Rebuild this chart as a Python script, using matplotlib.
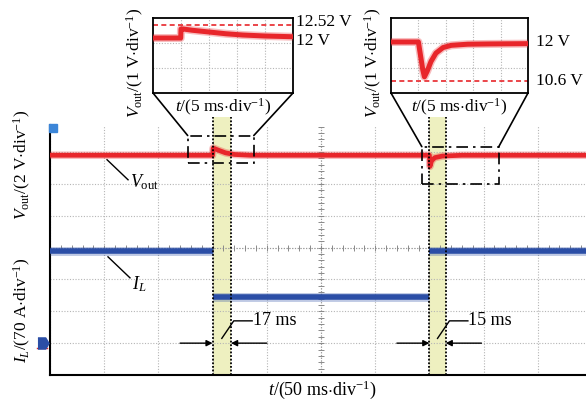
import numpy as np
import matplotlib
matplotlib.use("Agg")
from matplotlib import pyplot as plt
from matplotlib.patches import Rectangle, ConnectionPatch

plt.rcParams['font.family'] = ['Liberation Serif', 'DejaVu Serif']
plt.rcParams['mathtext.fontset'] = 'custom'
plt.rcParams['mathtext.rm'] = 'Liberation Serif'
plt.rcParams['mathtext.it'] = 'Liberation Serif:italic'

# scope settings
t_div = 50.0        # ms per division, main screen
v_div = 2.0         # V per division, channel 1
i_div = 70.0        # A per division, channel 2
v_ref = 0.9         # channel 1 ground position (div)
i_ref = 1.0         # channel 2 ground position (div)

# load step events: start time (ms) and settling time (ms)
event_t = [150, 350]
settle_ms = [17, 15]

# output voltage on main screen (V)
vout_t = [0, 150, 150.5, 156, 162, 170, 185, 350, 350.5, 352, 355, 362, 380, 500]
vout_v = [12.0, 12.0, 12.45, 12.3, 12.15, 12.05, 12.0, 12.0, 11.3, 11.65, 11.85, 11.95, 12.0, 12.0]

# inductor current (A), piecewise constant between the edges
il_edges = [0, 150, 350, 500]
il_a = [203, 101, 203]

# zoomed views, 5 ms/div
zoom1_t = [0, 4.95, 5.0, 5.4, 7, 10, 13, 16, 20, 25]
zoom1_v = [12.0, 12.0, 12.36, 12.36, 12.31, 12.24, 12.17, 12.12, 12.08, 12.05]
zoom1_peak = 12.52
zoom1_nom = 12.0

zoom2_t = [0, 5.0, 5.4, 5.8, 6.1, 6.6, 7.3, 8.2, 9.5, 11, 14, 18, 25]
zoom2_v = [12.0, 12.0, 11.5, 11.0, 10.75, 10.95, 11.3, 11.6, 11.8, 11.88, 11.92, 11.93, 11.94]
zoom2_min = 10.6
zoom2_nom = 12.0

# zoom windows on the main screen (ms, div)
zoom_boxes = [(127, 188, 6.67, 7.52), (343, 414, 6.0, 7.17)]

RED = '#e8262b'
BLUE = '#2b4ea6'
BAND = '#eef0c0'

W, H = 586, 401


def px_rect(x0, y0, x1, y1):
    return [x0 / W, 1 - y1 / H, (x1 - x0) / W, (y1 - y0) / H]


def fuzzy_line(ax, x, y, color, lw):
    ax.plot(x, y, color=color, lw=lw * 1.6, alpha=0.3, solid_capstyle='butt', zorder=3)
    ax.plot(x, y, color=color, lw=lw, solid_capstyle='butt', zorder=4)


fig = plt.figure(figsize=(W / 100, H / 100), dpi=100)

# ---- main screen ----
ax = fig.add_axes(px_rect(50, 125, 592, 375))
ax.set_xlim(0, 10 * t_div)
ax.set_ylim(0, 7.85)
ax.set_xticks(np.arange(0, 10 * t_div + 1, t_div))
ax.set_yticks(np.arange(0, 8))
ax.grid(True, color='#b5b5b5', ls=(0, (1, 1.5)), lw=0.8)
ax.tick_params(length=0, labelbottom=False, labelleft=False)
for s in ['top', 'right']:
    ax.spines[s].set_visible(False)
for s in ['left', 'bottom']:
    ax.spines[s].set_linewidth(1.5)

# center graticule with minor marks
ax.axvline(5 * t_div, color='#9a9a9a', lw=0.8, ls=(0, (1, 1.5)))
ax.axhline(4, color='#9a9a9a', lw=0.8, ls=(0, (1, 1.5)))
ax.plot(np.arange(0, 10 * t_div + 1, t_div / 5), np.full(51, 4.0), ls='none',
        marker='|', ms=4, mew=0.7, color='#8a8a8a')
ys = np.arange(0, 7.85, 0.2)
ax.plot(np.full(len(ys), 5 * t_div), ys, ls='none', marker='_', ms=4, mew=0.7, color='#8a8a8a')

# settling bands
for t0, dt in zip(event_t, settle_ms):
    band = ax.axvspan(t0, t0 + dt, ymin=0, ymax=1.032, color=BAND, lw=0, zorder=1)
    band.set_clip_on(False)
    for x in (t0, t0 + dt):
        ax.plot([x, x], [0, 8.1], color='k', ls=(0, (1, 1)), lw=1.3, zorder=5, clip_on=False)

# traces
fuzzy_line(ax, vout_t, np.array(vout_v) / v_div + v_ref, RED, 3.4)
for i, a_val in enumerate(il_a):
    lvl = a_val / i_div + i_ref
    fuzzy_line(ax, il_edges[i:i + 2], [lvl, lvl], BLUE, 4.0)

# channel markers
ax.plot(3, 7.75, marker='s', ms=5.5, color='#3c86d8', clip_on=False, zorder=6)
ax.plot(-6.5, i_ref, marker=[(-1, -1), (0.4, -1), (1, 0), (0.4, 1), (-1, 1)], ms=8,
        color=BLUE, clip_on=False, zorder=6)
ax.plot([-12, -3], [i_ref - 0.14, i_ref - 0.14], color=RED, lw=1.0, clip_on=False)

# zoom windows
for x0, x1, y0, y1 in zoom_boxes:
    ax.add_patch(Rectangle((x0, y0), x1 - x0, y1 - y0, fill=False, ec='k', lw=1.2,
                           ls=(0, (7, 3, 1.5, 3)), zorder=6))

# trace labels
ax.plot([52.6, 72.0], [6.76, 6.13], color='k', lw=1.0)
ax.text(73.5, 6.05, r'$V_{\mathrm{out}}$', fontsize=13, ha='left', va='center')
ax.plot([53.5, 73.8], [3.71, 3.05], color='k', lw=1.0)
ax.text(76, 2.85, r'$I_L$', fontsize=13, ha='left', va='center')

# settling time annotations
arrow = dict(arrowstyle='-|>', color='k', lw=1.0, mutation_scale=9, shrinkA=0, shrinkB=0)
for t0, dt in zip(event_t, settle_ms):
    ax.annotate('', xy=(t0, 1.0), xytext=(t0 - 30, 1.0), arrowprops=arrow)
    ax.annotate('', xy=(t0 + dt, 1.0), xytext=(t0 + dt + 33, 1.0), arrowprops=arrow)
    xm = t0 + dt / 2
    ax.plot([xm, xm + 11, xm + 28], [1.15, 1.7, 1.7], color='k', lw=1.0)
    ax.text(xm + 28.5, 1.72, f'{dt} ms', fontsize=13, ha='left', va='center')

fig.text(22 / W, 1 - 165 / H, r'$V_{\mathrm{out}}$/(2 V$\cdot$div$^{-1}$)', rotation=90,
         fontsize=12.5, ha='center', va='center')
fig.text(22 / W, 1 - 310 / H, r'$I_L$/(70 A$\cdot$div$^{-1}$)', rotation=90,
         fontsize=12.5, ha='center', va='center')
fig.text(322 / W, 1 - 390 / H, r'$t$/(50 ms$\cdot$div$^{-1}$)', fontsize=13,
         ha='center', va='center')


# ---- zoomed views ----
def inset(rect, t, v, ylim, ref, nom, ref_lbl, nom_lbl, lbl_x, lbl_dy, box):
    a = fig.add_axes(px_rect(*rect))
    a.set_xlim(0, 25)
    a.set_ylim(*ylim)
    a.set_xticks([5, 10, 15, 20])
    a.set_yticks(np.linspace(ylim[0], ylim[1], 4)[1:-1])
    a.grid(True, color='#b5b5b5', ls=(0, (1, 1.5)), lw=0.8)
    a.tick_params(length=0, labelbottom=False, labelleft=False)
    for s in a.spines.values():
        s.set_linewidth(1.3)
    a.axhline(ref, color=RED, ls=(0, (3, 2)), lw=1.2)
    fuzzy_line(a, t, v, RED, 3.6)
    tr = a.get_yaxis_transform()
    a.annotate(ref_lbl, (lbl_x, ref), xycoords=tr, xytext=(0, lbl_dy[0]),
               textcoords='offset points', fontsize=12.5, ha='left', va='center')
    a.annotate(nom_lbl, (lbl_x, nom), xycoords=tr, xytext=(0, lbl_dy[1]),
               textcoords='offset points', fontsize=12.5, ha='left', va='center')
    a.text(0.5, -0.19, r'$t$/(5 ms$\cdot$div$^{-1}$)', transform=a.transAxes,
           fontsize=12.5, ha='center', va='center')
    a.text(-0.125, 0.4, r'$V_{\mathrm{out}}$/(1 V$\cdot$div$^{-1}$)', transform=a.transAxes,
           rotation=90, fontsize=12.5, ha='center', va='center')
    x0, x1, y0, y1 = box
    for xa, xb in ((0, x0), (1, x1)):
        fig.add_artist(ConnectionPatch(xyA=(xa, 0), coordsA=a.transAxes,
                                       xyB=(xb, y1), coordsB=ax.transData,
                                       color='k', lw=1.2))
    return a


inset((153, 18, 293, 93), zoom1_t, zoom1_v, (9.8, 12.8), zoom1_peak, zoom1_nom,
      f'{zoom1_peak} V', f'{zoom1_nom:g} V', 1.02, (2, -2), zoom_boxes[0])
inset((391, 18, 528, 93), zoom2_t, zoom2_v, (10.17, 12.86), zoom2_min, zoom2_nom,
      f'{zoom2_min} V', f'{zoom2_nom:g} V', 1.06, (0, 0), zoom_boxes[1])

fig.savefig('out.png', dpi=100)
